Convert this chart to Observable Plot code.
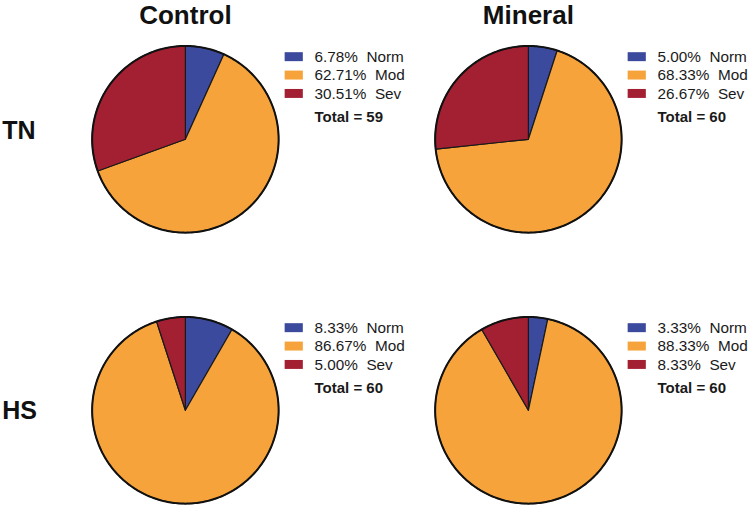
<!DOCTYPE html>
<html>
<head>
<meta charset="utf-8">
<script src="https://cdn.jsdelivr.net/npm/d3@7"></script>
<script src="https://cdn.jsdelivr.net/npm/@observablehq/plot@0.6"></script>
<style>
  html, body { margin: 0; padding: 0; background: #fff; }
  svg { font-family: "Liberation Sans", Arial, sans-serif; }
</style>
</head>
<body>
<div id="chart"></div>
<script>
// ---- data ----
const groups = ["Control", "Mineral"];
const conditions = ["TN", "HS"];
const categories = ["Norm", "Mod", "Sev"];
const colors = ["#3b4a9c", "#f6a33b", "#a31f32"];

const pctControlTN = [6.78, 62.71, 30.51];
const pctMineralTN = [5.00, 68.33, 26.67];
const pctControlHS = [8.33, 86.67, 5.00];
const pctMineralHS = [3.33, 88.33, 8.33];

const totalsTN = [59, 60];
const totalsHS = [60, 60];

// ---- layout (in pie-radius units) ----
const rowLabelY = {TN: 0.085, HS: -0.01};
const legRectX1 = 1.07, legRectX2 = 1.265, legTextX = 1.385;
const legY0 = 0.88, legStep = 0.197, legHalfH = 0.048;
const totalGap = 0.25;

// ---- build tables ----
const panels = [
  {fx: "Control", fy: "TN", pcts: pctControlTN, total: totalsTN[0]},
  {fx: "Mineral", fy: "TN", pcts: pctMineralTN, total: totalsTN[1]},
  {fx: "Control", fy: "HS", pcts: pctControlHS, total: totalsHS[0]},
  {fx: "Mineral", fy: "HS", pcts: pctMineralHS, total: totalsHS[1]}
];

const slicePts = [];
const ringPts = [];
const legend = [];
const totals = [];
for (const p of panels) {
  const arcs = d3.pie().sort(null).value(d => d)(p.pcts);
  arcs.forEach((a, i) => {
    const key = `${p.fx}-${p.fy}-${i}`;
    const cat = categories[i];
    slicePts.push({key, cat, fx: p.fx, fy: p.fy, x: 0, y: 0});
    const n = Math.max(2, Math.ceil((a.endAngle - a.startAngle) / (Math.PI / 180)));
    for (let k = 0; k <= n; k++) {
      const t = a.startAngle + (a.endAngle - a.startAngle) * k / n;
      slicePts.push({key, cat, fx: p.fx, fy: p.fy, x: Math.sin(t), y: Math.cos(t)});
    }
    slicePts.push({key, cat, fx: p.fx, fy: p.fy, x: 0, y: 0});
    legend.push({fx: p.fx, fy: p.fy, cat, i, pct: p.pcts[i]});
  });
  for (let k = 0; k <= 360; k++) {
    const t = k * Math.PI / 180;
    ringPts.push({key: `${p.fx}-${p.fy}`, fx: p.fx, fy: p.fy, x: Math.sin(t), y: Math.cos(t)});
  }
  totals.push({fx: p.fx, fy: p.fy, total: p.total});
}

const legY = d => legY0 - d.i * legStep;

const chart = Plot.plot({
  width: 752,
  height: 508,
  marginLeft: 72.8,
  marginRight: 17.6,
  marginTop: 38.4,
  marginBottom: 2.1,
  style: {fontFamily: '"Liberation Sans", Arial, sans-serif', color: "#111", background: "#fff", overflow: "visible"},
  x: {domain: [-1.2, 2.2], axis: null},
  y: {domain: [-1.02, 1.08], axis: null},
  fx: {domain: groups, axis: null, paddingInner: 0.075, paddingOuter: 0},
  fy: {domain: conditions, axis: null, paddingInner: 0.2755, paddingOuter: 0},
  color: {domain: categories, range: colors},
  marks: [
    Plot.line(slicePts, {x: "x", y: "y", z: "key", fill: "cat", stroke: "#1a1a1a", strokeWidth: 1.2, fx: "fx", fy: "fy", curve: "linear", strokeLinejoin: "round"}),
    Plot.line(ringPts, {x: "x", y: "y", z: "key", stroke: "#111", strokeWidth: 2, fx: "fx", fy: "fy", curve: "linear"}),
    Plot.rect(legend, {x1: legRectX1, x2: legRectX2, y1: d => legY(d) - legHalfH, y2: d => legY(d) + legHalfH, fill: "cat", fx: "fx", fy: "fy"}),
    Plot.text(legend, {x: legTextX, y: legY, text: d => `${d.pct.toFixed(2)}%\u00a0 ${d.cat}`, textAnchor: "start", lineAnchor: "middle", fontSize: 15.3, fill: "#1a1a1a", fx: "fx", fy: "fy"}),
    Plot.text(totals, {x: legTextX, y: legY0 - 2 * legStep - totalGap, text: d => `Total = ${d.total}`, textAnchor: "start", lineAnchor: "middle", fontSize: 15, fontWeight: "bold", fill: "#1a1a1a", fx: "fx", fy: "fy"}),
    Plot.text(groups, {fx: d => d, fy: () => "TN", x: 0, y: 1.325, text: d => d, fontSize: 26, fontWeight: "bold", lineAnchor: "middle", fill: "#111"}),
    Plot.text(conditions, {fy: d => d, fx: () => "Control", x: -1.965, y: d => rowLabelY[d], text: d => d, textAnchor: "start", fontSize: 25, fontWeight: "bold", lineAnchor: "middle", fill: "#111"})
  ]
});
document.getElementById("chart").appendChild(chart);
</script>
</body>
</html>
